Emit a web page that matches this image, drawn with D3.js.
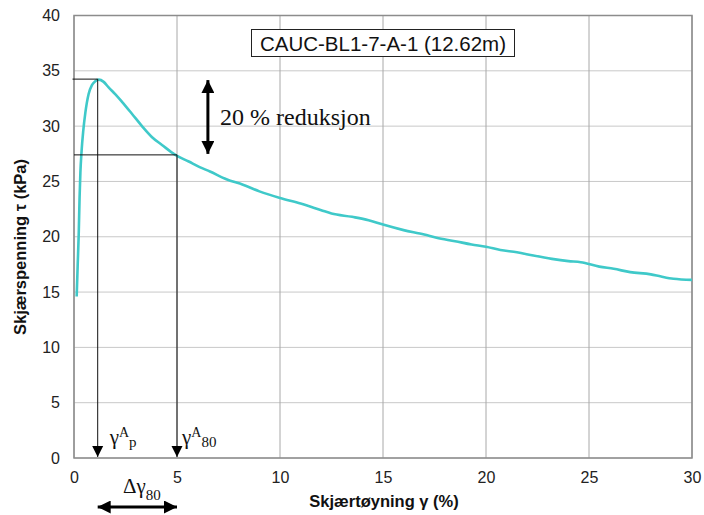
<!DOCTYPE html>
<html>
<head>
<meta charset="utf-8">
<script src="https://cdn.jsdelivr.net/npm/d3@7"></script>
<style>
  body { margin: 0; background: #fff; }
  svg { display: block; }
</style>
</head>
<body>
<script>
// Shear strain (%) and shear stress (kPa)
const strain = [0.13, 0.18, 0.23, 0.27, 0.31, 0.37, 0.45, 0.55, 0.71, 0.87, 1.03, 1.2, 1.44, 1.68, 2.0, 2.33,
  2.82, 3.3, 3.79, 4.27, 4.92, 5.57, 6.1, 6.6, 7.4, 8.2, 9.0, 10, 11, 12, 12.5, 13.5, 14.3, 15, 16, 17, 17.6,
  18.5, 19.3, 20, 20.7, 21.5, 22.3, 23.2, 24, 24.6, 25.5, 26.2, 27, 28, 28.5, 29.1, 30];
const stress = [14.6, 17.5, 20.3, 23.5, 25.8, 27.8, 29.6, 31.2, 32.9, 33.7, 34.05, 34.2, 34.0, 33.5, 32.9, 32.2,
  31.1, 30.0, 29.0, 28.3, 27.4, 26.8, 26.3, 25.9, 25.2, 24.7, 24.1, 23.5, 23.0, 22.4, 22.1, 21.8, 21.5, 21.1, 20.6, 20.2, 19.9,
  19.6, 19.3, 19.1, 18.8, 18.6, 18.3, 18.0, 17.8, 17.7, 17.3, 17.1, 16.8, 16.6, 16.4, 16.2, 16.1];

const xTicks = [0, 5, 10, 15, 20, 25, 30];
const yTicks = [0, 5, 10, 15, 20, 25, 30, 35, 40];

// peak and 80 % points
const peakStrain = 1.15, peakStress = 34.25;
const strain80 = 5.0, stress80 = 27.4;

const width = 704, height = 515;
const margin = {left: 74, right: 12, top: 15.5, bottom: 57};
const sans = "Arial, 'Liberation Sans', sans-serif";
const serif = "'Liberation Serif', 'Times New Roman', serif";

const svg = d3.select("body").append("svg")
    .attr("width", width)
    .attr("height", height);

const x = d3.scaleLinear().domain([0, 30]).range([margin.left, width - margin.right]);
const y = d3.scaleLinear().domain([0, 40]).range([height - margin.bottom, margin.top]);

// gridlines
svg.append("g")
    .selectAll("line")
    .data(yTicks)
    .join("line")
    .attr("x1", x(0)).attr("x2", x(30))
    .attr("y1", d => y(d)).attr("y2", d => y(d))
    .attr("stroke", "#c8c8c8");

svg.append("g")
    .selectAll("line")
    .data(xTicks)
    .join("line")
    .attr("x1", d => x(d)).attr("x2", d => x(d))
    .attr("y1", y(0)).attr("y2", y(40))
    .attr("stroke", "#a8a8a8");

// frame
svg.append("rect")
    .attr("x", x(0)).attr("y", y(40))
    .attr("width", x(30) - x(0)).attr("height", y(0) - y(40))
    .attr("fill", "none")
    .attr("stroke", "#8c8c8c")
    .attr("stroke-width", 1.5);

// tick labels (no tick lines)
const xAxis = svg.append("g")
    .attr("transform", `translate(0,${y(0)})`)
    .call(d3.axisBottom(x).tickValues(xTicks).tickSize(0).tickPadding(14));
const yAxis = svg.append("g")
    .attr("transform", `translate(${x(0)},0)`)
    .call(d3.axisLeft(y).tickValues(yTicks).tickSize(0).tickPadding(14));
[xAxis, yAxis].forEach(a => {
    a.select(".domain").remove();
    a.selectAll("text")
        .style("font-family", sans)
        .style("font-size", "16px")
        .attr("fill", "#222");
});

// curve
const line = d3.line()
    .x((d, i) => x(strain[i]))
    .y(d => y(d))
    .curve(d3.curveMonotoneX);

svg.append("path")
    .datum(stress)
    .attr("d", line)
    .attr("fill", "none")
    .attr("stroke", "#3fc9c9")
    .attr("stroke-width", 2.6)
    .attr("stroke-linejoin", "round");

// arrow markers
const defs = svg.append("defs");
defs.append("marker")
    .attr("id", "thin")
    .attr("viewBox", "0 0 10 10")
    .attr("refX", 10).attr("refY", 5)
    .attr("markerUnits", "userSpaceOnUse")
    .attr("markerWidth", 11).attr("markerHeight", 12)
    .attr("orient", "auto")
    .append("path").attr("d", "M0,0 L10,5 L0,10 Z").attr("fill", "#000");
defs.append("marker")
    .attr("id", "thick")
    .attr("viewBox", "0 0 10 10")
    .attr("refX", 10).attr("refY", 5)
    .attr("markerUnits", "userSpaceOnUse")
    .attr("markerWidth", 13).attr("markerHeight", 13)
    .attr("orient", "auto-start-reverse")
    .append("path").attr("d", "M0,0 L10,5 L0,10 Z").attr("fill", "#000");

// peak and 80% guide lines
const guides = svg.append("g").attr("stroke", "#111").attr("stroke-width", 1).attr("fill", "none");
guides.append("line")
    .attr("x1", x(0) - 1.5).attr("x2", x(peakStrain))
    .attr("y1", y(peakStress)).attr("y2", y(peakStress));
guides.append("line")
    .attr("x1", x(peakStrain)).attr("x2", x(peakStrain))
    .attr("y1", y(peakStress)).attr("y2", y(0) - 1)
    .attr("marker-end", "url(#thin)");
guides.append("line")
    .attr("x1", x(0)).attr("x2", x(strain80))
    .attr("y1", y(stress80)).attr("y2", y(stress80));
guides.append("line")
    .attr("x1", x(strain80)).attr("x2", x(strain80))
    .attr("y1", y(stress80)).attr("y2", y(0) - 1)
    .attr("marker-end", "url(#thin)");

// 20 % reduction double arrow
svg.append("line")
    .attr("x1", x(6.5)).attr("x2", x(6.5))
    .attr("y1", y(peakStress) + 1).attr("y2", y(stress80) - 1)
    .attr("stroke", "#000").attr("stroke-width", 3)
    .attr("marker-start", "url(#thick)")
    .attr("marker-end", "url(#thick)");

svg.append("text")
    .attr("x", 220).attr("y", 125)
    .style("font-family", serif)
    .style("font-size", "24px")
    .attr("fill", "#111")
    .text("20 % reduksjon");

// delta gamma 80 arrow below axis
svg.append("line")
    .attr("x1", x(peakStrain)).attr("x2", x(strain80))
    .attr("y1", 507).attr("y2", 507)
    .attr("stroke", "#000").attr("stroke-width", 3)
    .attr("marker-start", "url(#thick)")
    .attr("marker-end", "url(#thick)");

function gammaLabel(xPos, sub) {
    const t = svg.append("text")
        .attr("x", xPos).attr("y", 444)
        .style("font-family", serif)
        .style("font-size", "21px")
        .attr("fill", "#111");
    t.append("tspan").text("γ");
    t.append("tspan").attr("dy", -7).style("font-size", "14px").text("A");
    t.append("tspan").attr("dy", 10).style("font-size", "15px").text(sub);
}
gammaLabel(x(peakStrain) + 12, "p");
gammaLabel(x(strain80) + 5, "80");

const dl = svg.append("text")
    .attr("x", 123).attr("y", 493)
    .style("font-family", serif)
    .style("font-size", "21px")
    .attr("fill", "#111");
dl.append("tspan").text("Δγ");
dl.append("tspan").attr("dy", 7).style("font-size", "15px").text("80");

// title box
const title = svg.append("g");
title.append("rect")
    .attr("x", 251.5).attr("y", 29.5)
    .attr("width", 263).attr("height", 27)
    .attr("fill", "#fff")
    .attr("stroke", "#222").attr("stroke-width", 1);
title.append("text")
    .attr("x", 383).attr("y", 51)
    .attr("text-anchor", "middle")
    .style("font-family", sans)
    .style("font-size", "20.5px")
    .attr("fill", "#111")
    .text("CAUC-BL1-7-A-1 (12.62m)");

// axis titles
svg.append("text")
    .attr("x", 384).attr("y", 507)
    .attr("text-anchor", "middle")
    .style("font-family", sans)
    .style("font-size", "16.5px")
    .style("font-weight", "bold")
    .attr("fill", "#111")
    .text("Skjærtøyning γ (%)");

svg.append("text")
    .attr("transform", `translate(26,247) rotate(-90)`)
    .attr("text-anchor", "middle")
    .style("font-family", sans)
    .style("font-size", "16.5px")
    .style("font-weight", "bold")
    .attr("fill", "#111")
    .text("Skjærspenning τ (kPa)");
</script>
</body>
</html>
